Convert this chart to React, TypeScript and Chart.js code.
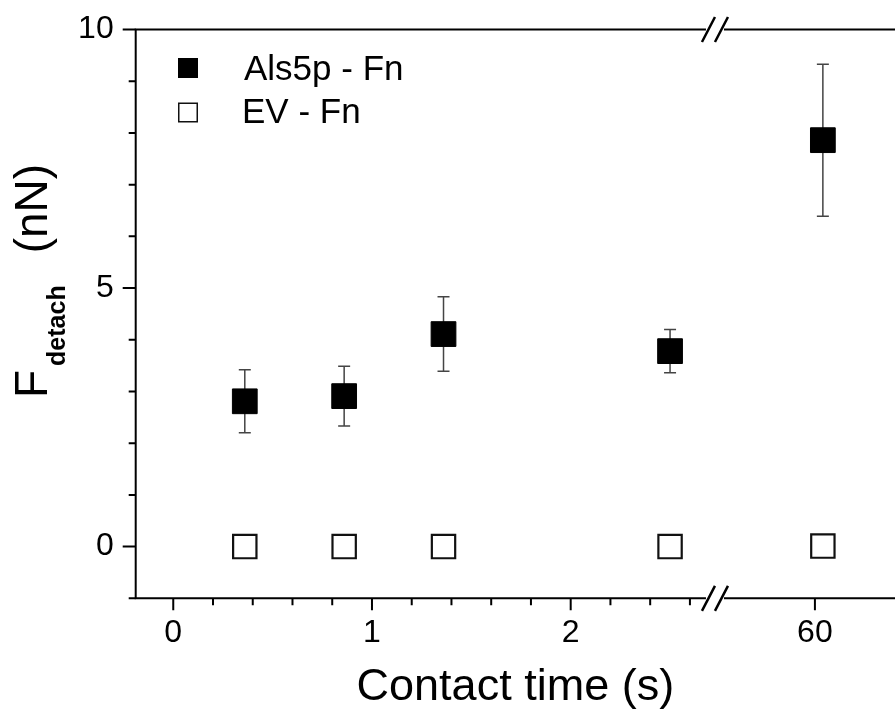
import React, { useEffect, useRef } from "react";
import { Chart, registerables } from "chart.js";

Chart.register(...registerables);

// ---------------- data ----------------
const seriesNames = ["Als5p - Fn", "EV - Fn"];
const contactTimes = [0.36, 0.86, 1.36, 2.5, 60.2];
const als5pForce = [2.81, 2.91, 4.11, 3.78, 7.86];
const als5pError = [0.61, 0.58, 0.72, 0.42, 1.47];
const evForce = [0, 0, 0, 0, 0.01];
const xTickTimes = [0, 1, 2, 60];
const yTickValues = [0, 5, 10];
const yMinorValues = [-1, 1, 2, 3, 4, 6, 7, 8, 9];
const xMinorValues = [0.2, 0.4, 0.6, 0.8, 1.2, 1.4, 1.6, 1.8, 2.2, 2.4, 2.6];

// broken axis: 0..~2.7 s linear, then a segment around 60 s
const BREAK_POS = 2.726;
const POST_BREAK_ORIGIN = 3.229;
const POST_BREAK_SLOPE = 0.2;
const toAxis = (t: number) =>
  t <= 3 ? t : POST_BREAK_ORIGIN + (t - 60) * POST_BREAK_SLOPE;

const FONT = "'Liberation Sans', Arial, Helvetica, sans-serif";

const decorPlugin = {
  id: "decor",
  beforeDatasetsDraw(chart: any) {
    const { ctx, scales } = chart;
    const x = scales.x;
    const y = scales.y;
    ctx.save();
    ctx.strokeStyle = "#444";
    ctx.lineWidth = 1.5;
    contactTimes.forEach((t, i) => {
      const px = x.getPixelForValue(toAxis(t));
      const top = y.getPixelForValue(als5pForce[i] + als5pError[i]);
      const bot = y.getPixelForValue(als5pForce[i] - als5pError[i]);
      ctx.beginPath();
      ctx.moveTo(px, top);
      ctx.lineTo(px, bot);
      ctx.moveTo(px - 6, top);
      ctx.lineTo(px + 6, top);
      ctx.moveTo(px - 6, bot);
      ctx.lineTo(px + 6, bot);
      ctx.stroke();
    });
    ctx.restore();
  },
  afterDraw(chart: any) {
    const { ctx, chartArea, scales } = chart;
    const x = scales.x;
    const y = scales.y;
    const { left, right, top, bottom } = chartArea;
    ctx.save();
    ctx.strokeStyle = "#000";
    ctx.lineWidth = 2;
    ctx.lineCap = "butt";
    // frame: left, bottom, top
    ctx.beginPath();
    ctx.moveTo(left, top - 1);
    ctx.lineTo(left, bottom + 1);
    ctx.moveTo(left - 1, bottom);
    ctx.lineTo(right, bottom);
    ctx.moveTo(left - 1, top);
    ctx.lineTo(right, top);
    ctx.stroke();
    // y ticks
    ctx.beginPath();
    yTickValues.forEach((v) => {
      const py = y.getPixelForValue(v);
      ctx.moveTo(left, py);
      ctx.lineTo(left - 13, py);
    });
    yMinorValues.forEach((v) => {
      const py = y.getPixelForValue(v);
      ctx.moveTo(left, py);
      ctx.lineTo(left - 7, py);
    });
    // x ticks
    xTickTimes.forEach((t) => {
      const px = x.getPixelForValue(toAxis(t));
      ctx.moveTo(px, bottom);
      ctx.lineTo(px, bottom + 12);
    });
    xMinorValues.forEach((t) => {
      const px = x.getPixelForValue(toAxis(t));
      ctx.moveTo(px, bottom);
      ctx.lineTo(px, bottom + 7);
    });
    ctx.stroke();
    // axis break marks
    const bx = x.getPixelForValue(BREAK_POS);
    [top, bottom].forEach((ly) => {
      ctx.fillStyle = "#fff";
      ctx.fillRect(bx - 9, ly - 2, 18, 4);
      ctx.strokeStyle = "#000";
      ctx.lineWidth = 2.5;
      ctx.beginPath();
      ctx.moveTo(bx - 13, ly + 12.5);
      ctx.lineTo(bx, ly - 12.5);
      ctx.moveTo(bx, ly + 12.5);
      ctx.lineTo(bx + 13, ly - 12.5);
      ctx.stroke();
    });
    // legend
    ctx.fillStyle = "#000";
    ctx.fillRect(178, 58, 20, 20);
    ctx.strokeStyle = "#111";
    ctx.lineWidth = 1.5;
    ctx.strokeRect(178.75, 103.25, 18.5, 18.5);
    ctx.font = `35px ${FONT}`;
    ctx.textBaseline = "alphabetic";
    ctx.textAlign = "left";
    ctx.fillText(seriesNames[0], 244, 80);
    ctx.fillText(seriesNames[1], 242, 123);
    // y title, rotated, with subscript
    ctx.translate(47, 398);
    ctx.rotate(-Math.PI / 2);
    ctx.font = `46px ${FONT}`;
    ctx.fillText("F", 0, 0);
    let cx = ctx.measureText("F").width + 4;
    ctx.font = `bold 25px ${FONT}`;
    ctx.fillText("detach", cx, 18);
    cx += ctx.measureText("detach").width + 32;
    ctx.font = `46px ${FONT}`;
    ctx.fillText("(nN)", cx, 0);
    ctx.restore();
  },
};

export default function App() {
  const ref = useRef<HTMLCanvasElement | null>(null);
  useEffect(() => {
    if (!ref.current) return;
    const chart = new Chart(ref.current, {
      type: "scatter",
      data: {
        datasets: [
          {
            label: seriesNames[0],
            data: contactTimes.map((t, i) => ({ x: toAxis(t), y: als5pForce[i] })),
            pointStyle: "rect",
            pointRadius: 17.5,
            pointHoverRadius: 17.5,
            backgroundColor: "#000",
            borderColor: "#000",
            borderWidth: 1,
            showLine: false,
          },
          {
            label: seriesNames[1],
            data: contactTimes.map((t, i) => ({ x: toAxis(t), y: evForce[i] })),
            pointStyle: "rect",
            pointRadius: 16.5,
            pointHoverRadius: 16.5,
            backgroundColor: "#fff",
            borderColor: "#111",
            borderWidth: 2.2,
            showLine: false,
          },
        ],
      },
      options: {
        animation: false,
        responsive: false,
        devicePixelRatio: 1,
        layout: { autoPadding: false, padding: { top: 29.5, left: 0, right: 0, bottom: 0 } },
        plugins: {
          legend: { display: false },
          tooltip: { enabled: false },
        },
        scales: {
          x: {
            type: "linear",
            min: -0.189,
            max: 3.632,
            afterBuildTicks: (s: any) => {
              s.ticks = xTickTimes.map((t) => ({ value: toAxis(t) }));
            },
            afterFit: (s: any) => {
              s.height = 125.7;
              s.paddingLeft = 0;
              s.paddingRight = 0;
              s.paddingTop = 0;
              s.paddingBottom = 0;
            },
            ticks: {
              callback: (_v: any, i: number) => String(xTickTimes[i]),
              font: { size: 32, family: FONT },
              color: "#000",
              padding: 16,
              autoSkip: false,
              maxRotation: 0,
            },
            grid: { display: false, drawTicks: false },
            border: { display: false },
            title: {
              display: true,
              text: "Contact time (s)",
              font: { size: 45, family: FONT },
              color: "#000",
              padding: { top: 0, bottom: 9 },
            },
          },
          y: {
            type: "linear",
            min: -1,
            max: 10,
            afterBuildTicks: (s: any) => {
              s.ticks = yTickValues.map((v) => ({ value: v }));
            },
            afterFit: (s: any) => {
              s.width = 135.7;
              s.paddingLeft = 0;
              s.paddingRight = 0;
              s.paddingTop = 0;
              s.paddingBottom = 0;
            },
            ticks: {
              font: { size: 32, family: FONT },
              color: "#000",
              padding: 22,
            },
            grid: { display: false, drawTicks: false },
            border: { display: false },
          },
        },
      } as any,
      plugins: [decorPlugin],
    });
    return () => chart.destroy();
  }, []);
  return (
    <div style={{ position: "absolute", left: 0, top: 0, width: 895, height: 724, background: "#fff" }}>
      <canvas ref={ref} width={895} height={724} />
    </div>
  );
}
